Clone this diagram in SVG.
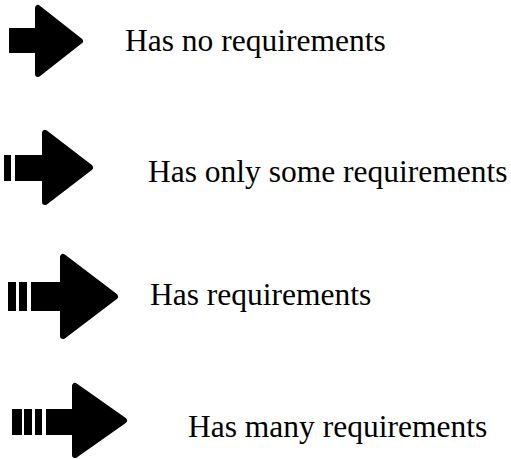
<svg xmlns="http://www.w3.org/2000/svg" width="511" height="459" viewBox="0 0 511 459">
<style>
.a{fill:#000}
.h{fill:#000;stroke:#000;stroke-width:6;stroke-linejoin:round}
.t{font-family:"Liberation Serif","Times New Roman",serif;font-size:31.5px;fill:#000}
</style>
<rect width="511" height="459" fill="#fff"/>
<g id="arrow1">
<rect class="a" x="9" y="28" width="30" height="25"/>
<polygon class="h" points="38,8 38,74 80,41"/>
</g>
<g id="label1"><text class="t" x="125" y="51">Has no requirements</text></g>
<g id="arrow2">
<rect class="a" x="4" y="155" width="7" height="26"/>
<rect class="a" x="15" y="155" width="30" height="26"/>
<polygon class="h" points="45,133 45,202 90,167.5"/>
</g>
<g id="label2"><text class="t" x="148" y="182">Has only some requirements</text></g>
<g id="arrow3">
<rect class="a" x="8" y="282" width="8" height="29"/>
<rect class="a" x="19" y="282" width="8" height="29"/>
<rect class="a" x="31" y="282" width="33" height="29"/>
<polygon class="h" points="63,257 63,336 115,296.5"/>
</g>
<g id="label3"><text class="t" x="150" y="305">Has requirements</text></g>
<g id="arrow4">
<rect class="a" x="12" y="409" width="10" height="26"/>
<rect class="a" x="24" y="409" width="8" height="26"/>
<rect class="a" x="35" y="409" width="7" height="26"/>
<rect class="a" x="46" y="409" width="30" height="26"/>
<polygon class="h" points="75,386 75,455 124,420.5"/>
</g>
<g id="label4"><text class="t" x="188" y="437">Has many requirements</text></g>
<g id="connectors"/>
</svg>
